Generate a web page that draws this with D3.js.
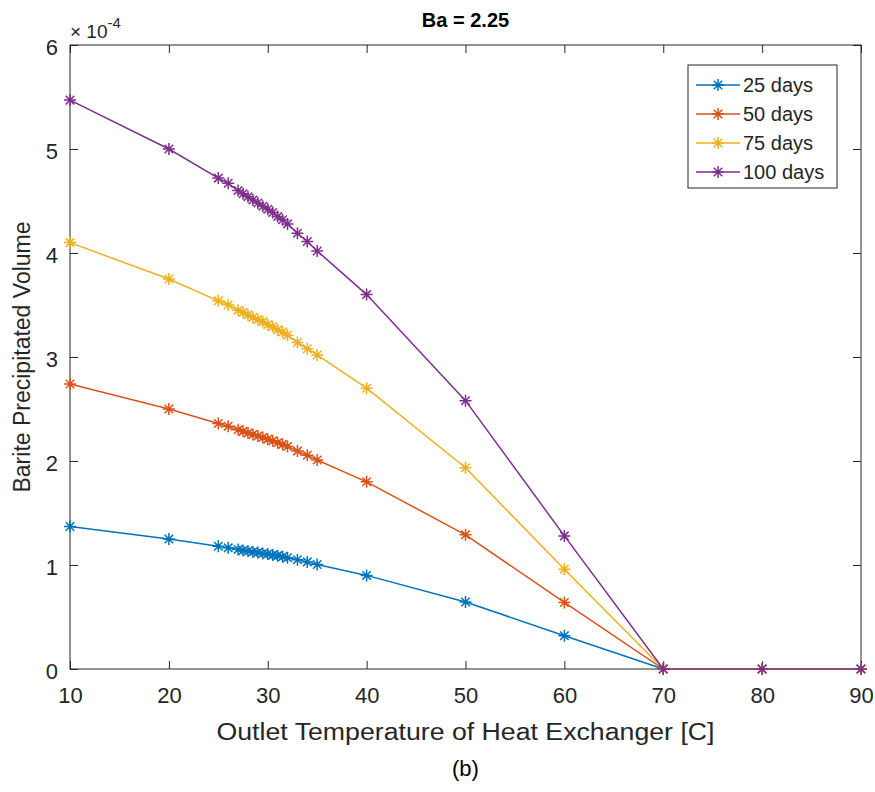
<!DOCTYPE html>
<html>
<head>
<meta charset="utf-8">
<script src="https://cdn.jsdelivr.net/npm/d3@7"></script>
<style>
  body { margin: 0; background: #fff; }
  text { font-family: "Liberation Sans", Arial, Helvetica, sans-serif; }
</style>
</head>
<body>
<div id="wrapper"></div>
<script>
// Outlet temperatures [C]
const temps = [10, 20, 25, 26, 27, 27.5, 28, 28.5, 29, 29.5, 30, 30.5, 31, 31.5, 32, 33, 34, 35, 40, 50, 60, 70, 80, 90]

// Barite precipitated volume (x 1e-4)
const days25 = [1.37, 1.25, 1.18, 1.165, 1.15, 1.14, 1.135, 1.125, 1.12, 1.11, 1.105, 1.095, 1.09, 1.08, 1.07, 1.05, 1.03, 1.005, 0.90, 0.645, 0.32, 0, 0, 0]
const days50 = [2.74, 2.50, 2.36, 2.335, 2.30, 2.285, 2.27, 2.255, 2.24, 2.225, 2.21, 2.195, 2.175, 2.16, 2.14, 2.095, 2.055, 2.01, 1.80, 1.29, 0.64, 0, 0, 0]
const days75 = [4.10, 3.75, 3.54, 3.50, 3.45, 3.43, 3.405, 3.38, 3.36, 3.34, 3.31, 3.29, 3.26, 3.24, 3.21, 3.14, 3.08, 3.02, 2.70, 1.935, 0.96, 0, 0, 0]
const days100 = [5.47, 5.00, 4.72, 4.67, 4.60, 4.57, 4.54, 4.51, 4.48, 4.45, 4.42, 4.39, 4.35, 4.32, 4.28, 4.19, 4.11, 4.02, 3.60, 2.58, 1.28, 0, 0, 0]

const seriesNames = ["25 days", "50 days", "75 days", "100 days"]
const seriesValues = [days25, days50, days75, days100]
const colors = ["#0072BD", "#D95319", "#EDB120", "#7E2F8E"]

const xTicks = [10, 20, 30, 40, 50, 60, 70, 80, 90]
const yTicks = [0, 1, 2, 3, 4, 5, 6]

const dimensions = {
    width: 875,
    height: 792,
    margin: { top: 45, right: 14, bottom: 123, left: 70 },
}
dimensions.boundedWidth = dimensions.width - dimensions.margin.left - dimensions.margin.right
dimensions.boundedHeight = dimensions.height - dimensions.margin.top - dimensions.margin.bottom

const wrapper = d3.select("#wrapper")
    .append("svg")
    .attr("width", dimensions.width)
    .attr("height", dimensions.height)

const bounds = wrapper.append("g")
    .attr("transform", `translate(${dimensions.margin.left},${dimensions.margin.top})`)

const xScale = d3.scaleLinear()
    .domain([10, 90])
    .range([0, dimensions.boundedWidth])

const yScale = d3.scaleLinear()
    .domain([0, 6])
    .range([dimensions.boundedHeight, 0])

const axisColor = "#262626"
const tickLen = 8

// axes with inward ticks
const styleAxis = g => {
    g.select(".domain").remove()
    g.selectAll(".tick line").attr("stroke", axisColor)
    g.selectAll(".tick text")
        .attr("fill", axisColor)
        .style("font-size", "22px")
}

bounds.append("g")
    .attr("transform", `translate(0,${dimensions.boundedHeight})`)
    .call(d3.axisBottom(xScale).tickValues(xTicks).tickSizeInner(-tickLen).tickSizeOuter(0).tickPadding(18))
    .call(styleAxis)

bounds.append("g")
    .call(d3.axisTop(xScale).tickValues(xTicks).tickSizeInner(-tickLen).tickSizeOuter(0).tickFormat(""))
    .call(styleAxis)

bounds.append("g")
    .call(d3.axisLeft(yScale).tickValues(yTicks).tickSizeInner(-tickLen).tickSizeOuter(0).tickPadding(12).tickFormat(d3.format("d")))
    .call(styleAxis)
    .selectAll(".tick text").attr("dy", "0.45em")

bounds.append("g")
    .attr("transform", `translate(${dimensions.boundedWidth},0)`)
    .call(d3.axisRight(yScale).tickValues(yTicks).tickSizeInner(-tickLen).tickSizeOuter(0).tickFormat(""))
    .call(styleAxis)

bounds.append("rect")
    .attr("width", dimensions.boundedWidth)
    .attr("height", dimensions.boundedHeight)
    .attr("fill", "none")
    .attr("stroke", axisColor)
    .attr("stroke-width", 1)

// asterisk marker
const starPath = (r) => {
    const d = r * Math.SQRT1_2
    return `M${-r},0L${r},0M0,${-r}L0,${r}M${-d},${-d}L${d},${d}M${-d},${d}L${d},${-d}`
}

const lineGenerator = d3.line()
    .x((d, i) => xScale(temps[i]))
    .y(d => yScale(d))

seriesValues.forEach((values, s) => {
    bounds.append("path")
        .attr("d", lineGenerator(values))
        .attr("fill", "none")
        .attr("stroke", colors[s])
        .attr("stroke-width", 1.5)

    bounds.append("g")
        .selectAll("path")
        .data(values)
        .join("path")
        .attr("transform", (d, i) => `translate(${xScale(temps[i])},${yScale(d)})`)
        .attr("d", starPath(6))
        .attr("stroke", colors[s])
        .attr("stroke-width", 1.5)
        .attr("fill", "none")
})

// exponent label
const expo = wrapper.append("text")
    .attr("x", dimensions.margin.left)
    .attr("y", 38)
    .attr("fill", axisColor)
    .style("font-size", "19px")
expo.append("tspan").text("\u00d7 10")
expo.append("tspan").attr("dy", -10).style("font-size", "15px").text("-4")

// title
wrapper.append("text")
    .attr("x", dimensions.margin.left + dimensions.boundedWidth / 2)
    .attr("y", 27)
    .attr("text-anchor", "middle")
    .attr("fill", "#000")
    .style("font-size", "20px")
    .style("font-weight", "bold")
    .text("Ba = 2.25")

// axis labels
wrapper.append("text")
    .attr("x", dimensions.margin.left + dimensions.boundedWidth / 2)
    .attr("y", 740)
    .attr("text-anchor", "middle")
    .attr("fill", axisColor)
    .attr("textLength", 498)
    .attr("lengthAdjust", "spacingAndGlyphs")
    .style("font-size", "23px")
    .text("Outlet Temperature of Heat Exchanger [C]")

wrapper.append("text")
    .attr("transform", `translate(30,${dimensions.margin.top + dimensions.boundedHeight / 2}) rotate(-90)`)
    .attr("text-anchor", "middle")
    .attr("fill", axisColor)
    .style("font-size", "23px")
    .text("Barite Precipitated Volume")

wrapper.append("text")
    .attr("x", dimensions.margin.left + dimensions.boundedWidth / 2)
    .attr("y", 776)
    .attr("text-anchor", "middle")
    .attr("fill", "#000")
    .style("font-size", "22px")
    .text("(b)")

// legend
const legend = wrapper.append("g")
    .attr("transform", "translate(688,65)")

legend.append("rect")
    .attr("width", 149)
    .attr("height", 123)
    .attr("fill", "#fff")
    .attr("stroke", axisColor)

seriesNames.forEach((name, i) => {
    const y = 20 + i * 29
    legend.append("line")
        .attr("x1", 8).attr("x2", 52)
        .attr("y1", y).attr("y2", y)
        .attr("stroke", colors[i])
        .attr("stroke-width", 1.5)
    legend.append("path")
        .attr("transform", `translate(30,${y})`)
        .attr("d", starPath(6))
        .attr("stroke", colors[i])
        .attr("stroke-width", 1.5)
    legend.append("text")
        .attr("x", 55)
        .attr("y", y + 7)
        .attr("fill", axisColor)
        .style("font-size", "20px")
        .text(name)
})
</script>
</body>
</html>
